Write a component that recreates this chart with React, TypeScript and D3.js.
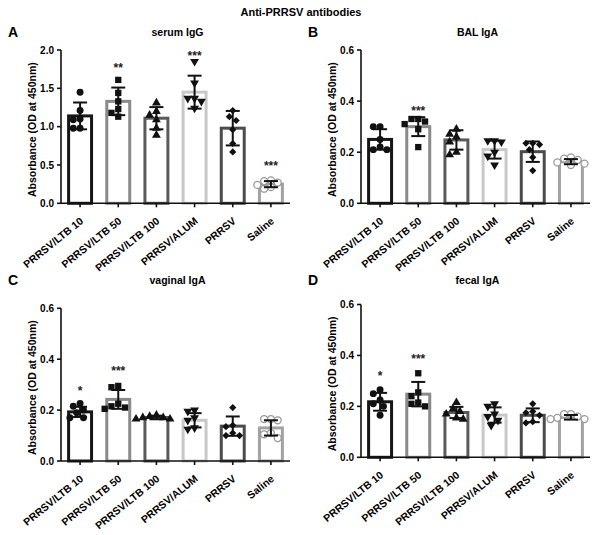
import React from "react";
import * as d3 from "d3";

const categories = ["PRRSV/LTB 10", "PRRSV/LTB 50", "PRRSV/LTB 100", "PRRSV/ALUM", "PRRSV", "Saline"];

// Panel A: serum IgG
const serumMeans = [1.14, 1.33, 1.11, 1.45, 0.98, 0.25];
const serumSD = [0.175, 0.18, 0.145, 0.215, 0.225, 0.04];
const serumPoints = [
  [1.45, 1.21, 1.1, 1.09, 0.98, 0.98],
  [1.61, 1.44, 1.33, 1.23, 1.18, 1.13],
  [1.31, 1.2, 1.15, 1.09, 0.98, 0.89],
  [1.85, 1.57, 1.37, 1.37, 1.33, 1.24],
  [1.21, 1.13, 1.08, 0.96, 0.78, 0.67],
  [0.3, 0.29, 0.27, 0.24, 0.21, 0.19],
];
const serumSig = ["", "**", "", "***", "", "***"];
const serumSigY = [0, 1.805, 0, 1.96, 0, 0.526];

// Panel B: BAL IgA
const balMeans = [0.25, 0.3, 0.248, 0.21, 0.202, 0.163];
const balSD = [0.04, 0.037, 0.038, 0.035, 0.04, 0.01];
const balPoints = [
  [0.3, 0.3, 0.25, 0.22, 0.21, 0.21],
  [0.33, 0.33, 0.32, 0.31, 0.29, 0.22],
  [0.29, 0.27, 0.26, 0.24, 0.2, 0.19],
  [0.245, 0.245, 0.24, 0.2, 0.185, 0.15],
  [0.235, 0.235, 0.23, 0.21, 0.18, 0.128],
  [0.18, 0.175, 0.17, 0.16, 0.155, 0.15],
];
const balSig = ["", "***", "", "", "", ""];
const balSigY = [0, 0.373, 0, 0, 0, 0];

// Panel C: vaginal IgA
const vagMeans = [0.193, 0.242, 0.171, 0.16, 0.137, 0.13];
const vagSD = [0.02, 0.037, 0.007, 0.028, 0.038, 0.03];
const vagPoints = [
  [0.226, 0.215, 0.2, 0.19, 0.17, 0.17],
  [0.295, 0.29, 0.225, 0.215, 0.21, 0.205],
  [0.18, 0.175, 0.17, 0.17, 0.165, 0.165],
  [0.2, 0.195, 0.17, 0.16, 0.13, 0.125],
  [0.21, 0.14, 0.135, 0.11, 0.1, 0.1],
  [0.165, 0.165, 0.16, 0.11, 0.105, 0.09],
];
const vagSig = ["*", "***", "", "", "", ""];
const vagSigY = [0.286, 0.365, 0, 0, 0, 0];

// Panel D: fecal IgA
const fecMeans = [0.218, 0.248, 0.176, 0.166, 0.165, 0.157];
const fecSD = [0.035, 0.048, 0.022, 0.03, 0.027, 0.009];
const fecPoints = [
  [0.265, 0.25, 0.225, 0.21, 0.2, 0.165],
  [0.33, 0.255, 0.24, 0.215, 0.21, 0.2],
  [0.215, 0.19, 0.18, 0.17, 0.155, 0.15],
  [0.21, 0.2, 0.17, 0.16, 0.145, 0.125],
  [0.21, 0.18, 0.175, 0.165, 0.14, 0.135],
  [0.17, 0.17, 0.16, 0.155, 0.15, 0.15],
];
const fecSig = ["*", "***", "", "", "", ""];
const fecSigY = [0.331, 0.396, 0, 0, 0, 0];

const serumTicks = [0, 0.5, 1.0, 1.5, 2.0];
const igaTicks = [0, 0.2, 0.4, 0.6];

const mainTitle = "Anti-PRRSV antibodies";
const yLabel = "Absorbance (OD at 450nm)";

const panels = [
  { letter: "A", title: "serum IgG", means: serumMeans, sd: serumSD, points: serumPoints, sig: serumSig, sigY: serumSigY, ticks: serumTicks },
  { letter: "B", title: "BAL IgA", means: balMeans, sd: balSD, points: balPoints, sig: balSig, sigY: balSigY, ticks: igaTicks },
  { letter: "C", title: "vaginal IgA", means: vagMeans, sd: vagSD, points: vagPoints, sig: vagSig, sigY: vagSigY, ticks: igaTicks },
  { letter: "D", title: "fecal IgA", means: fecMeans, sd: fecSD, points: fecPoints, sig: fecSig, sigY: fecSigY, ticks: igaTicks },
];

const layouts = [
  { x0: 61, x1: 290, y0: 50, y1: 203.3, ox: 0, oy: 0 },
  { x0: 361, x1: 590, y0: 50, y1: 203.3, ox: 300, oy: 0 },
  { x0: 61, x1: 290, y0: 308.3, y1: 461, ox: 0, oy: 248 },
  { x0: 361, x1: 590, y0: 304.5, y1: 457.3, ox: 300, oy: 248 },
];

const barColors = ["#161616", "#8a8a8a", "#5a5a5a", "#c8c8c8", "#4b4b4b", "#a2a2a2"];
const FONT = "'Liberation Sans', Arial, sans-serif";

const symbolFor = (i: number) => {
  if (i === 1) return d3.symbol().type(d3.symbolSquare).size(40)();
  if (i === 2 || i === 3) return d3.symbol().type(d3.symbolTriangle).size(34)();
  if (i === 4) return d3.symbol().type(d3.symbolSquare).size(26)();
  return d3.symbol().type(d3.symbolCircle).size(38)();
};
const symbolRotate = (i: number) => (i === 3 ? 180 : i === 4 ? 45 : 0);

function swarm(vals: number[], yScale: (v: number) => number, r: number) {
  const order = vals.map((_, i) => i).sort((a, b) => vals[b] - vals[a]);
  const placed: { x: number; y: number }[] = [];
  const off = new Array(vals.length).fill(0);
  for (const i of order) {
    const py = yScale(vals[i]);
    const cands = [0];
    for (let k = 1; k < 10; k++) cands.push(-k * r, k * r);
    let chosen = 0;
    for (const dx of cands) {
      if (placed.every((p) => (p.x - dx) ** 2 + (p.y - py) ** 2 >= (2 * r) ** 2)) {
        chosen = dx;
        break;
      }
    }
    off[i] = chosen;
    placed.push({ x: chosen, y: py });
  }
  return off;
}

function Panel({ p, L }: { p: (typeof panels)[number]; L: (typeof layouts)[number] }) {
  const maxT = p.ticks[p.ticks.length - 1];
  const y = d3.scaleLinear().domain([0, maxT]).range([L.y1, L.y0]);
  const x = d3.scalePoint<string>().domain(categories).range([L.x0, L.x1]).padding(0.5);
  const step = x.step();
  const bw = step * 0.68;
  const fmt = d3.format(".1f");
  const midY = (L.y0 + L.y1) / 2 + 3;
  return (
    <g>
      <text x={L.ox + 8} y={L.oy + 37} fontSize={14} fontWeight="bold" fontFamily={FONT}>{p.letter}</text>
      <text x={(L.x0 + L.x1) / 2 + 2} y={L.oy + 36} fontSize={10.5} fontWeight="bold" fontFamily={FONT} textAnchor="middle">{p.title}</text>
      <text transform={`translate(${L.x0 - 25},${midY}) rotate(-90)`} fontSize={10.5} fontWeight="bold" fontFamily={FONT} textAnchor="middle">{yLabel}</text>
      {categories.map((c, i) => {
        const cx = x(c)!;
        const top = y(p.means[i]);
        return (
          <rect key={"b" + i} x={cx - bw / 2 + 1.5} y={top} width={bw - 3} height={L.y1 - top} fill="white" stroke={barColors[i]} strokeWidth={3} />
        );
      })}
      {categories.map((c, i) => {
        const cx = x(c)!;
        const offs = swarm(p.points[i], y, 3.4);
        return (
          <g key={"p" + i}>
            {p.points[i].map((v, j) => (
              <path
                key={j}
                d={symbolFor(i)!}
                transform={`translate(${cx + offs[j]},${y(v)}) rotate(${symbolRotate(i)})`}
                fill={i === 5 ? "white" : "#111"}
                stroke={i === 5 ? "#9a9a9a" : "none"}
                strokeWidth={i === 5 ? 1.3 : 0}
              />
            ))}
          </g>
        );
      })}
      {categories.map((c, i) => {
        const cx = x(c)!;
        const hi = y(p.means[i] + p.sd[i]);
        const lo = y(p.means[i] - p.sd[i]);
        return (
          <g key={"e" + i} stroke="#111" strokeWidth={2}>
            <line x1={cx} x2={cx} y1={hi} y2={lo} />
            <line x1={cx - 7} x2={cx + 7} y1={hi} y2={hi} />
            <line x1={cx - 7} x2={cx + 7} y1={lo} y2={lo} />
          </g>
        );
      })}
      {categories.map((c, i) =>
        p.sig[i] ? (
          <text key={"s" + i} x={x(c)!} y={y(p.sigY[i]) + 7} fontSize={12} fontWeight="bold" fontFamily={FONT} textAnchor="middle" fill="#222">
            {p.sig[i]}
          </text>
        ) : null
      )}
      <line x1={L.x0} x2={L.x0} y1={L.y0} y2={L.y1} stroke="#111" strokeWidth={1.6} />
      <line x1={L.x0} x2={L.x1} y1={L.y1} y2={L.y1} stroke="#111" strokeWidth={1.6} />
      {p.ticks.map((t) => (
        <g key={"t" + t}>
          <line x1={L.x0 - 4} x2={L.x0} y1={y(t)} y2={y(t)} stroke="#111" strokeWidth={1.6} />
          <text x={L.x0 - 7} y={y(t) + 3.6} fontSize={10} fontWeight="bold" fontFamily={FONT} textAnchor="end">{fmt(t)}</text>
        </g>
      ))}
      {categories.map((c) => {
        const cx = x(c)!;
        return (
          <g key={"x" + c}>
            <line x1={cx} x2={cx} y1={L.y1} y2={L.y1 + 4} stroke="#111" strokeWidth={1.6} />
            <text transform={`translate(${cx + 4},${L.y1 + 19}) rotate(-39)`} fontSize={10.5} fontWeight="bold" fontFamily={FONT} textAnchor="end">{c}</text>
          </g>
        );
      })}
    </g>
  );
}

export default function App() {
  return (
    <svg width={600} height={535} style={{ position: "absolute", left: 0, top: 0, background: "white" }}>
      <rect width={600} height={535} fill="white" />
      <text x={301} y={16} fontSize={11} fontWeight="bold" fontFamily={FONT} textAnchor="middle">{mainTitle}</text>
      {panels.map((p, i) => (
        <Panel key={p.letter} p={p} L={layouts[i]} />
      ))}
    </svg>
  );
}
